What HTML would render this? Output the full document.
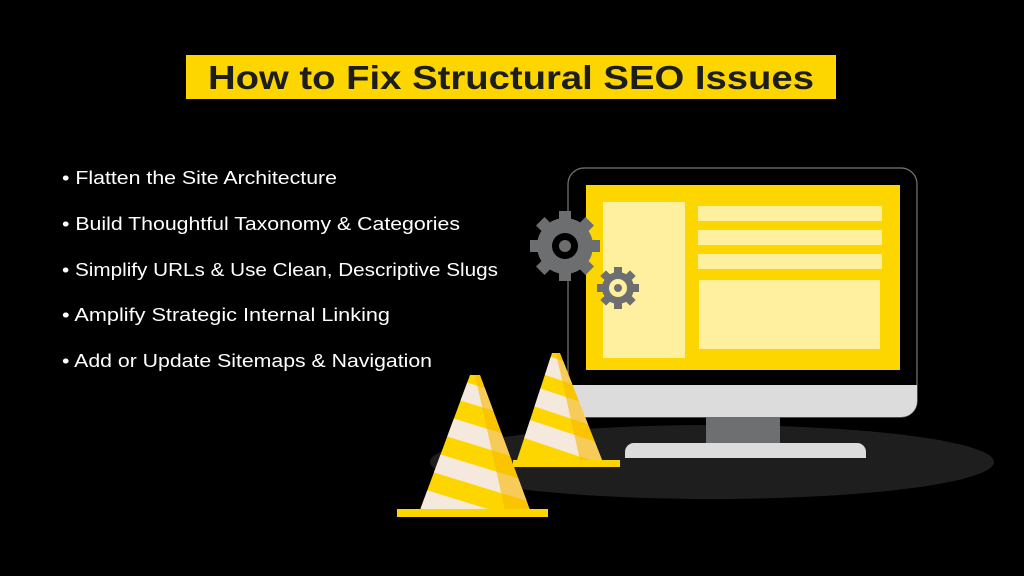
<!DOCTYPE html>
<html><head><meta charset="utf-8"><style>
html,body{margin:0;padding:0;background:#000;width:1024px;height:576px;overflow:hidden}
</style></head><body>
<svg width="1024" height="576" viewBox="0 0 1024 576" xmlns="http://www.w3.org/2000/svg">
<rect width="1024" height="576" fill="#000"/>
<rect x="186" y="55" width="650" height="44" fill="#fdd600"/>
<text x="511" y="89" text-anchor="middle" font-family="Liberation Sans, sans-serif" font-weight="bold" font-size="33" fill="#1d1d1b" textLength="606" lengthAdjust="spacingAndGlyphs">How to Fix Structural SEO Issues</text>
<g font-family="Liberation Sans, sans-serif" font-size="18.5" fill="#fff">
<text x="62" y="184" textLength="275" lengthAdjust="spacingAndGlyphs">• Flatten the Site Architecture</text>
<text x="62" y="230" textLength="398" lengthAdjust="spacingAndGlyphs">• Build Thoughtful Taxonomy &amp; Categories</text>
<text x="62" y="276" textLength="436" lengthAdjust="spacingAndGlyphs">• Simplify URLs &amp; Use Clean, Descriptive Slugs</text>
<text x="62" y="321" textLength="328" lengthAdjust="spacingAndGlyphs">• Amplify Strategic Internal Linking</text>
<text x="62" y="367" textLength="370" lengthAdjust="spacingAndGlyphs">• Add or Update Sitemaps &amp; Navigation</text>
</g>
<ellipse cx="712" cy="462" rx="282" ry="37" fill="#1e1e1e"/>
<!-- monitor -->
<rect x="568" y="168" width="349" height="249" rx="16" fill="#000" stroke="#777" stroke-width="1.2"/>
<path d="M568 385 H917 V401 a16 16 0 0 1 -16 16 H584 a16 16 0 0 1 -16 -16 Z" fill="#dcdcdc"/>
<rect x="586" y="185" width="314" height="185" fill="#fdd600"/>
<rect x="603" y="202" width="82" height="156" fill="#fff0a0"/>
<rect x="698" y="206" width="184" height="15" fill="#fff0a0"/>
<rect x="698" y="230" width="184" height="15" fill="#fff0a0"/>
<rect x="698" y="254" width="184" height="15" fill="#fff0a0"/>
<rect x="699" y="280" width="181" height="69" fill="#fff0a0"/>
<rect x="706" y="417" width="74" height="26" fill="#6d6f71"/>
<path d="M625 458 V452 a9 9 0 0 1 9 -9 H857 a9 9 0 0 1 9 9 V458 Z" fill="#dcdcdc"/>
<!-- gears -->
<g fill="#6d6e70">
<g transform="translate(565,246)">
<circle r="28"/>
<g><rect x="-6" y="-35" width="12" height="70"/><rect x="-6" y="-35" width="12" height="70" transform="rotate(45)"/><rect x="-6" y="-35" width="12" height="70" transform="rotate(90)"/><rect x="-6" y="-35" width="12" height="70" transform="rotate(135)"/></g>
<circle r="13" fill="#000"/><circle r="6"/>
</g>
<g transform="translate(618,288)">
<circle r="16"/>
<g><rect x="-4" y="-21" width="8" height="42"/><rect x="-4" y="-21" width="8" height="42" transform="rotate(45)"/><rect x="-4" y="-21" width="8" height="42" transform="rotate(90)"/><rect x="-4" y="-21" width="8" height="42" transform="rotate(135)"/></g>
<circle r="9" fill="#fff0a0"/><circle r="4"/>
</g>
</g>
<!-- small cone -->
<defs>
<clipPath id="c1"><path d="M552 353 L560 353 L602 460 L517 460 Z"/></clipPath>
<clipPath id="c2"><path d="M470 375 L480 375 L530 510 L420 510 Z"/></clipPath>
</defs>
<g clip-path="url(#c1)">
<rect x="500" y="340" width="120" height="130" fill="#fdd600"/>
<g fill="#f5e8dc">
<path d="M500 360 L620 400 L620 380 L500 340Z"/>
<path d="M500 395 L620 435 L620 415 L500 375Z"/>
<path d="M500 430 L620 470 L620 450 L500 410Z"/>
</g>
<path d="M560 353 L602 460 L580 460 L556 353Z" fill="#f8b800" opacity="0.6"/>
</g>
<rect x="513" y="460" width="107" height="7" fill="#fdd600"/>
<!-- big cone -->
<g clip-path="url(#c2)">
<rect x="410" y="365" width="130" height="150" fill="#fdd600"/>
<g fill="#f5e8dc">
<path d="M410 385 L540 425 L540 405 L410 365Z"/>
<path d="M410 425 L540 465 L540 445 L410 405Z"/>
<path d="M410 465 L540 505 L540 485 L410 445Z"/>
<path d="M410 505 L540 545 L540 525 L410 485Z"/>
</g>
<path d="M480 375 L530 510 L505 510 L475 375Z" fill="#f8b800" opacity="0.6"/>
</g>
<rect x="397" y="509" width="151" height="8" fill="#fdd600"/>
</svg>
</body></html>
